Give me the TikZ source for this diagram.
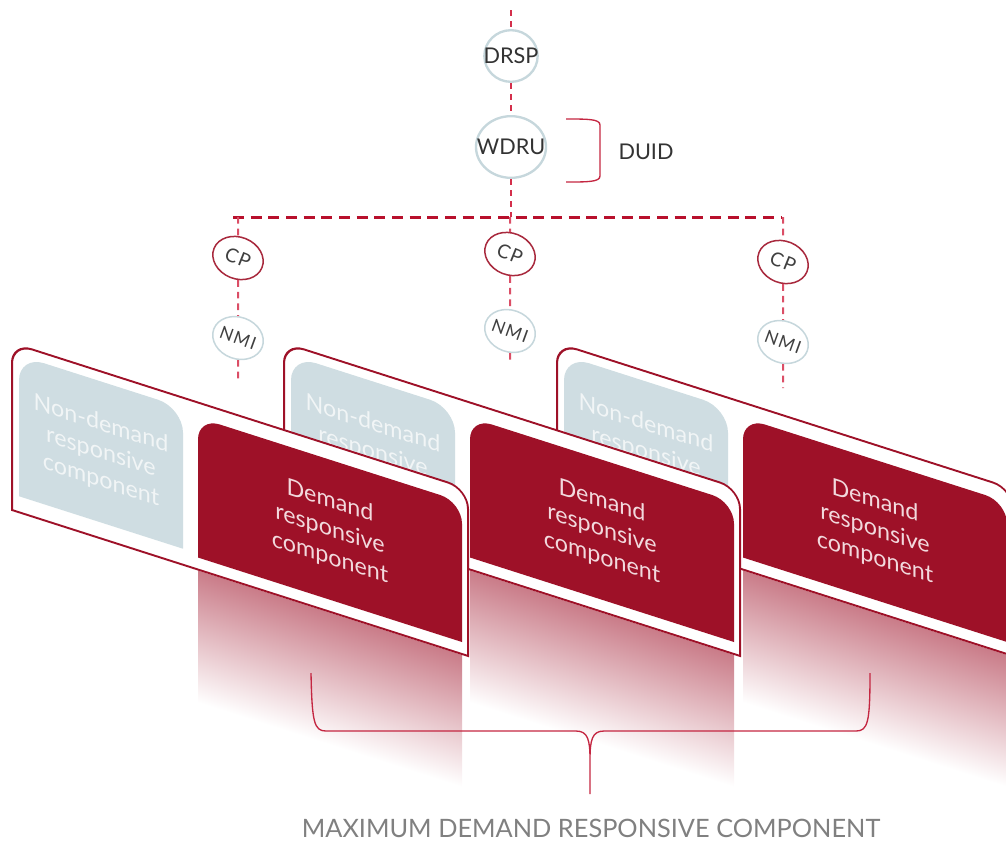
\documentclass[tikz,border=0pt]{standalone}
\usepackage{fontspec}
\setmainfont{Lato}
\newfontfamily\spaced[LetterSpace=8]{Lato}
\usetikzlibrary{shapes.geometric}
\definecolor{drred}{HTML}{9E1128}
\definecolor{ndgray}{HTML}{CFDDE2}
\definecolor{ringgray}{HTML}{C6D7DC}
\definecolor{dashred}{HTML}{D42F4B}
\definecolor{busred}{HTML}{B8102C}
\definecolor{brred}{HTML}{C42641}
\tikzset{
  ring/.style={ellipse,draw=ringgray,line width=1.4pt,fill=white,inner sep=0pt,text=black!80,font=\fontsize{13}{13}\selectfont},
  cpring/.style={ellipse,draw=drred!90,line width=0.9pt,fill=white,inner sep=0pt,minimum width=31pt,minimum height=25pt,rotate=-22,text=black!75,font=\fontsize{11.5}{11.5}\spaced},
  nmiring/.style={ellipse,draw=ringgray,line width=0.9pt,fill=white,inner sep=0pt,minimum width=31pt,minimum height=25pt,rotate=-20,text=black!75,font=\fontsize{10.5}{10.5}\spaced},
  topdash/.style={dashred,line width=1.5pt,dash pattern=on 3.6pt off 3pt},
  busdash/.style={busred,line width=1.8pt,dash pattern=on 6.6pt off 4pt},
  cpdash/.style={dashred!85,line width=1.2pt,dash pattern=on 4pt off 3pt},
  frm/.style={draw=drred,line width=1.2pt,fill=white},
  brace/.style={brred,line width=0.8pt},
  ndtext/.style={align=center,text={rgb,255:red,241;green,245;blue,246},font=\fontsize{14}{17}\selectfont},
  drtext/.style={align=center,text={rgb,255:red,242;green,217;blue,221},font=\fontsize{14}{17}\selectfont},
}
\begin{document}
\begin{tikzpicture}[x=0.6pt,y=-0.6pt]
	\useasboundingbox (0,0) rectangle (1006,842);
	\clip (0,0) rectangle (1006,842);
	\node[ring,minimum width=32pt,minimum height=31pt](drsp) at (511,56) {\makebox[0pt]{DRSP}};
	\node[ring,minimum width=42pt,minimum height=37pt](wdru) at (511,147) {\makebox[0pt]{WDRU}};
	\node[text=black!80,font=\fontsize{13}{13}\selectfont](duid) at (646,152) {DUID};
	\coordinate(top) at (511,10);
	\coordinate(hub) at (511,217);
	\coordinate(busl) at (233,217);
	\coordinate(busr) at (781,217);
	\draw[topdash] (top) -- (drsp);
	\draw[topdash] (drsp) -- (wdru);
	\draw[topdash] (wdru) -- (hub);
	\draw[busdash] (busl) -- (busr);
	\draw[brace] (566,119) .. controls (588,119) and (600,119) .. (600,125) -- (600,176) .. controls (600,182) and (588,182) .. (566,182);
	\node[cpring](cpa) at (238,258) {\makebox[0pt]{CP}};
	\node[nmiring](nmia) at (238,338) {\makebox[0pt]{NMI}};
	\coordinate(enda) at (238,383);
	\node[cpring](cpb) at (510,254) {\makebox[0pt]{CP}};
	\node[nmiring](nmib) at (510,331) {\makebox[0pt]{NMI}};
	\coordinate(endb) at (510,362);
	\node[cpring](cpc) at (783,262) {\makebox[0pt]{CP}};
	\node[nmiring](nmic) at (783,342) {\makebox[0pt]{NMI}};
	\coordinate(endc) at (783,388);
	\draw[cpdash] (cpa |- busl) -- (cpa);
	\draw[cpdash] (cpa) -- (nmia);
	\draw[cpdash] (nmia) -- (enda);
	\draw[cpdash] (cpb |- busl) -- (cpb);
	\draw[cpdash] (cpb) -- (nmib);
	\draw[cpdash] (nmib) -- (endb);
	\draw[cpdash] (cpc |- busl) -- (cpc);
	\draw[cpdash] (cpc) -- (nmic);
	\draw[cpdash] (nmic) -- (endc);
	\foreach \L in {557,284,12}{
	\begin{scope}[transform canvas={shift={(\L,343)},cm={1,-0.32,0,1,(0,0)}}]
		\shade[top color=drred!55,bottom color=white] (186,168) rectangle (450,300);
		\filldraw[frm] (0,167) [rounded corners=12pt] -- (0,0) -- (456,0) [sharp corners] -- (456,167) -- cycle;
		\fill[ndgray] (7,151) [rounded corners=15pt] -- (7,10) -- (171,10) [sharp corners] -- (171,151) -- cycle;
		\fill[drred] (186,155) [rounded corners=13pt] -- (186,15) -- (450,15) [sharp corners] -- (450,155) -- cycle;
		\node[ndtext](nd\L) at (89,81) {Non-demand\\responsive\\component};
		\node[drtext](dr\L) at (318,85) {Demand\\responsive\\component};
	\end{scope}}
	\draw[brace] (311,673) .. controls (312,722) and (314,731) .. (326,731) -- (576,731) .. controls (588,731) and (590,740) .. (590,760) -- (590,794) -- (590,760) .. controls (590,740) and (592,731) .. (604,731) -- (856,731) .. controls (868,731) and (870,722) .. (870,673);
	\node[text=black!50,font=\fontsize{15.2}{15.2}\selectfont](maxlbl) at (591,828) {MAXIMUM DEMAND RESPONSIVE COMPONENT};
\end{tikzpicture}
\end{document}
